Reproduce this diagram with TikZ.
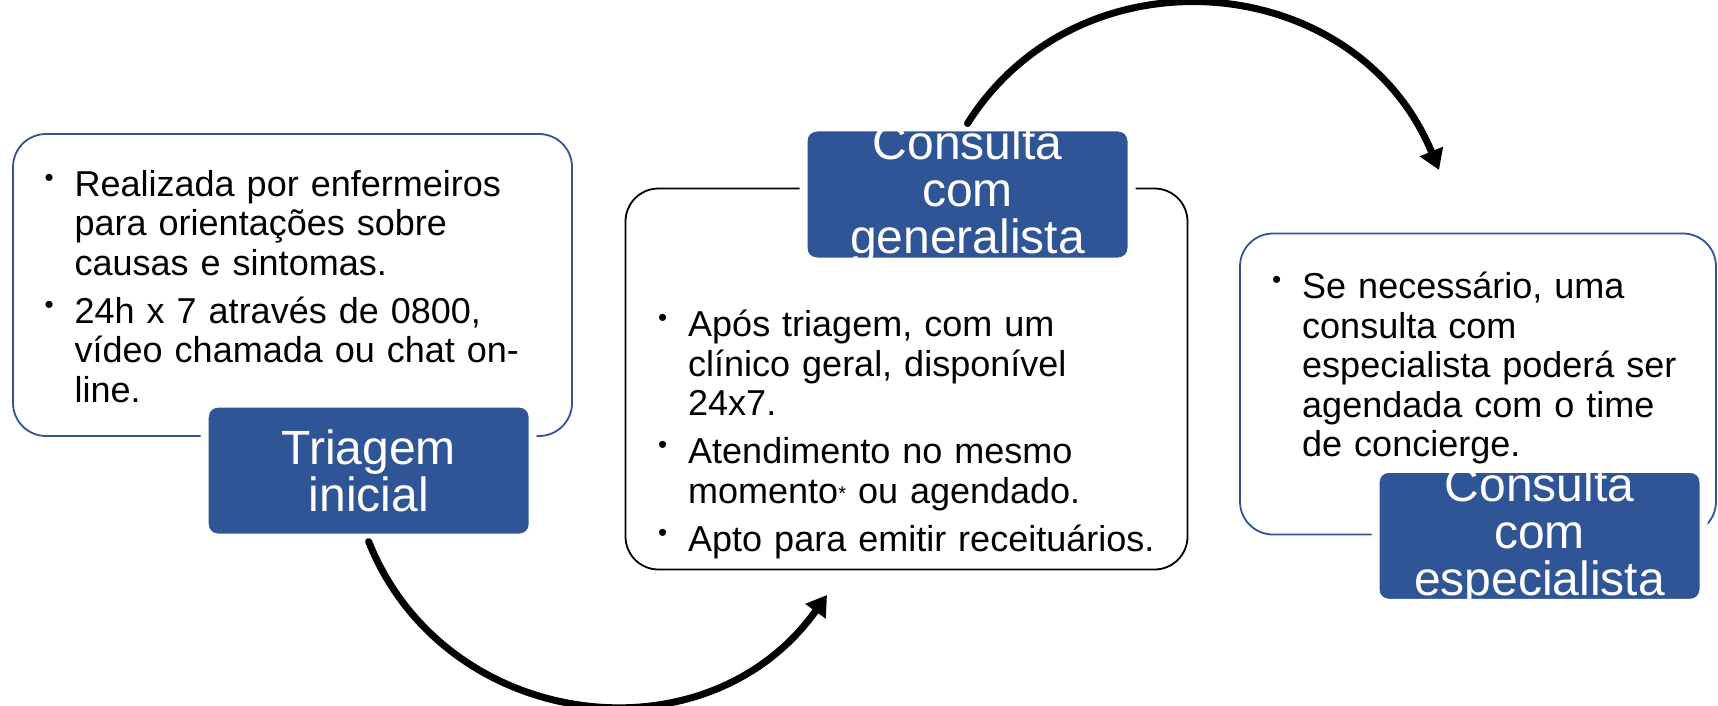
\documentclass[tikz,border=0pt]{standalone}
\usepackage{fontspec}
\setmainfont{Liberation Sans}
\usetikzlibrary{arrows.meta}
\definecolor{careblue}{RGB}{47,85,151}
\setlength{\leftmargini}{29pt}
\setlength{\labelsep}{21pt}
\renewcommand{\labelitemi}{\raisebox{10pt}{\fontsize{26}{26}\selectfont\textbullet}}
\newenvironment{carelist}{\begin{itemize}\setlength{\itemsep}{4.5pt}\setlength{\parsep}{0pt}}{\end{itemize}}
\newcommand{\carestar}{{\fontsize{20}{20}\selectfont\raisebox{3pt}{*}}}
\tikzset{
  every picture/.append style={line cap=round,line join=round},
  care panel/.style={draw=careblue,line width=1.8pt,rounded corners=33pt,inner sep=0pt},
  care panel dark/.style={care panel,draw=black},
  care title/.style={fill=careblue,draw=white,line width=8pt,rounded corners=13pt,
    minimum width=328pt,minimum height=134pt,inner sep=0pt},
  care title text/.style={text=white,font=\fontsize{48}{47}\selectfont,align=center},
  care list/.style={anchor=base west,inner sep=0pt,text width=520pt,align=left,
    font=\fontsize{36}{39.5}\selectfont},
  care arrow/.style={line width=7pt,-{Triangle[length=20pt,width=24pt]}}
}
\begin{document}
\begin{tikzpicture}[x=1pt,y=-1pt]
  \useasboundingbox (0,0) rectangle (1718,706);
  \node[care panel,minimum width=559pt,minimum height=302pt] (triage panel) at (292.5,285) {};
  \node[care panel dark,minimum width=562pt,minimum height=381pt] (gen panel) at (906.5,379) {};
  \node[care panel,minimum width=476pt,minimum height=301pt] (spec panel) at (1478,384) {};
  \node[care list] (triage list) at (45.5,149) {\begin{carelist}
    \item Realizada por enfermeiros\newline para orientações sobre\newline causas e sintomas.
    \item 24h x 7 através de 0800,\newline vídeo chamada ou chat on-\newline line.
  \end{carelist}};
  \node[care list] (gen list) at (659,289) {\begin{carelist}
    \item Após triagem, com um\newline clínico geral, disponível\newline 24x7.
    \item Atendimento no mesmo\newline momento\carestar{} ou agendado.
    \item Apto para emitir receituários.
  \end{carelist}};
  \node[care list] (spec list) at (1273,251) {\begin{carelist}
    \item Se necessário, uma\newline consulta com\newline especialista poderá ser\newline agendada com o time\newline de concierge.
  \end{carelist}};
  \node[care title,path picture={\node[care title text] at (path picture bounding box.center) {Triagem\\inicial};}] (triage title) at (368.7,470.6) {};
  \node[care title,path picture={\node[care title text] at (path picture bounding box.center) {Consulta\\com\\generalista};}] (gen title) at (967.5,194.5) {};
  \node[care title,path picture={\node[care title text] at (path picture bounding box.center) {Consulta\\com\\especialista};}] (spec title) at (1539.5,535.8) {};
  \coordinate (triage tip) at (827,595);
  \coordinate (gen tip) at (1439,170);
  \draw[care arrow] (triage title.south) .. controls (444,731) and (706,765) .. (triage tip);
  \draw[care arrow] (gen title.north) .. controls (1080,-55) and (1356,-31) .. (gen tip);
\end{tikzpicture}
\end{document}
